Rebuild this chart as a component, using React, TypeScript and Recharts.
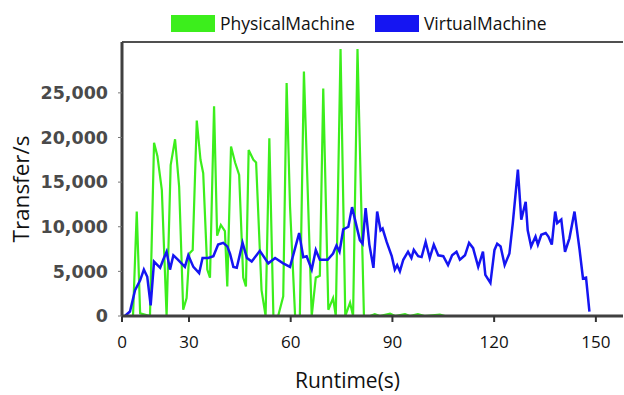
import React from "react";
import { LineChart, Line, XAxis, YAxis, Legend, Label, ReferenceLine } from "recharts";

const physicalTime = [
  11.1, 13.5, 14.6, 15.6, 18.5, 19.7, 20.7, 22.0, 23.4, 24.6, 25.9, 27.1, 28.3, 29.3, 30.1, 31.1, 32.3,
  33.4, 34.2, 35.4, 36.2, 37.4, 38.3, 39.4, 40.6, 41.3, 42.4, 43.6, 44.8, 46.0, 46.8, 47.6, 49.0,
  49.8, 51.4, 52.6, 53.7, 54.9, 56.3, 57.8, 58.8, 59.8, 61.3, 62.7, 63.9, 66.2, 67.4, 68.6, 69.6,
  71.1, 72.5, 73.3, 74.7, 76.1, 77.5, 78.4, 79.7, 81.6, 83.4, 84.8, 86.3, 89.3, 90.8, 93.7, 95.2,
  97.5, 99.5, 104.0, 105.5, 150.0,
];
const physicalValues = [
  0, 0, 11700, 300, 0, 19400, 17900, 14100, 0, 16900, 19800, 14500, 700, 2000, 7000, 7400, 21900,
  17500, 16000, 5200, 4300, 23500, 9000, 10200, 9500, 3300, 19000, 17200, 15800, 4300, 3300, 18600, 17500,
  17200, 2900, 0, 19900, 0, 0, 2200, 26100, 12300, 0, 0, 27400, 0, 4300, 4500, 25500,
  700, 2000, 0, 29900, 0, 1500, 0, 29900, 0, 0, 200, 0, 250, 0, 200, 0,
  200, 0, 150, 0, 0,
];

const virtualTime = [
  11.1, 12.6, 14.1, 15.6, 16.7, 17.7, 18.7, 19.7, 21.5, 22.4, 23.4, 24.4, 25.4, 26.8, 28.8, 29.8,
  31.3, 33.0, 34.0, 35.7, 37.2, 38.6, 40.1, 41.3, 42.1, 43.1, 44.1, 45.8, 47.1, 48.5, 50.9, 53.4,
  55.4, 57.8, 59.8, 61.3, 62.5, 63.7, 64.7, 66.2, 67.4, 68.6, 70.9, 72.5, 73.5, 74.4, 75.5, 77.0,
  78.1, 79.4, 80.4, 81.2, 82.1, 83.2, 84.4, 85.5, 86.5, 87.1, 88.3, 89.8, 90.7, 91.4, 92.2, 93.2,
  94.6, 95.6, 96.3, 97.6, 98.6, 99.8, 101.0, 102.2, 103.5, 105.0, 106.4, 107.6, 108.9, 109.9, 111.4, 112.6,
  113.8, 115.3, 116.7, 117.4, 118.9, 120.1, 120.9, 121.9, 123.1, 124.5, 125.5, 127.0, 128.0, 129.3, 129.9, 130.9,
  132.2, 132.9, 133.9, 135.2, 136.0, 137.0, 138.0, 138.6, 139.8, 140.9, 142.2, 143.7, 145.2, 146.2, 147.1, 148.1,
];
const virtualValues = [
  0, 500, 2900, 4000, 5200, 4400, 1200, 6100, 5400, 6300, 7200, 5200, 6800, 6300, 5500, 6800,
  5500, 4800, 6500, 6500, 6700, 8000, 8200, 7800, 7000, 5500, 5400, 8200, 6500, 6100, 7300, 5900,
  6500, 5900, 5500, 7600, 9300, 6600, 6700, 5200, 7400, 6300, 6300, 7000, 7900, 7200, 9700, 10000,
  12200, 10100, 8500, 8100, 12100, 8000, 5400, 11700, 9600, 9800, 8300, 6700, 5200, 5700, 5000, 6300,
  7200, 6500, 7400, 6700, 6600, 8300, 6500, 8000, 6800, 6700, 5700, 6800, 7200, 6300, 6800, 8200,
  7600, 5500, 7200, 4600, 3700, 7400, 8100, 7800, 5700, 7000, 10400, 16400, 10800, 12800, 9600, 7800,
  8900, 8000, 9100, 9300, 8900, 8000, 11700, 10400, 10800, 7200, 8700, 11700, 7400, 4200, 4300, 500,
];

const xTicks = [10.25, 30, 60, 90, 120, 150];
const xTickLabels = ["0", "30", "60", "90", "120", "150"];
const yTicks = [0, 5000, 10000, 15000, 20000, 25000];
const yMax = 30700;
const seriesNames = ["PhysicalMachine", "VirtualMachine"];
const seriesColors = ["#3cee1c", "#1515f2"];
const xTitle = "Runtime(s)";
const yTitle = "Transfer/s";

const physicalData = physicalTime.map((t, i) => ({ t, v: physicalValues[i] }));
const virtualData = virtualTime.map((t, i) => ({ t, v: virtualValues[i] }));

const titleFont = "'Open Sans', sans-serif";
const xTickStyle = { fontFamily: titleFont, fontSize: 17, fill: "#111" };
const yTickStyle = { fontFamily: "'DejaVu Sans', sans-serif", fontSize: 17.5, fontWeight: 700, fill: "#4a4a4a" };

function LegendContent() {
  return (
    <div style={{ display: "flex", alignItems: "center", fontFamily: titleFont, fontSize: 17.5, color: "#111" }}>
      {seriesNames.map((n, i) => (
        <div key={n} style={{ display: "flex", alignItems: "center", marginRight: i === 0 ? 20 : 0 }}>
          <div style={{ width: 44, height: 17, background: seriesColors[i], marginRight: 5 }} />
          <span style={{ lineHeight: "20px" }}>{n}</span>
        </div>
      ))}
    </div>
  );
}

export default function App() {
  return (
    <div style={{ position: "absolute", left: 0, top: 0, width: 624, height: 395 }}>
      <LineChart width={624} height={395} margin={{ top: 42, right: 1, bottom: 0, left: 0 }}>
        <XAxis
          type="number"
          dataKey="t"
          domain={[10.25, 158]}
          allowDataOverflow
          ticks={xTicks}
          interval={0}
          tickFormatter={(v: number) => xTickLabels[xTicks.indexOf(v)] ?? String(v)}
          height={79}
          tickSize={6}
          tickMargin={14}
          tick={xTickStyle}
          tickLine={{ stroke: "#333", strokeWidth: 2 }}
          axisLine={{ stroke: "#404040", strokeWidth: 3 }}
        >
          <Label
            content={(props: any) => {
              const vb = props.viewBox;
              return (
                <text
                  x={vb.x + vb.width / 2 - 25}
                  y={vb.y + 64}
                  textAnchor="middle"
                  dominantBaseline="central"
                  fontFamily={titleFont}
                  fontSize={21}
                  fill="#111"
                >
                  {xTitle}
                </text>
              );
            }}
          />
        </XAxis>
        <YAxis
          type="number"
          domain={[0, yMax]}
          allowDataOverflow
          ticks={yTicks}
          interval={0}
          width={122}
          tickFormatter={(v: number) => v.toLocaleString("en-US")}
          tickSize={4}
          tickMargin={10}
          tick={yTickStyle}
          tickLine={{ stroke: "#777", strokeWidth: 1 }}
          axisLine={{ stroke: "#404040", strokeWidth: 3 }}
        >
          <Label
            content={(props: any) => {
              const vb = props.viewBox;
              const cx = vb.x + 20;
              const cy = vb.y + vb.height / 2 + 10;
              return (
                <text
                  x={cx}
                  y={cy}
                  transform={`rotate(-90, ${cx}, ${cy})`}
                  textAnchor="middle"
                  dominantBaseline="central"
                  fontFamily={titleFont}
                  fontSize={22.5}
                  fill="#111"
                >
                  {yTitle}
                </text>
              );
            }}
          />
        </YAxis>
        <ReferenceLine y={yMax} stroke="#505050" strokeWidth={2} ifOverflow="extendDomain" />
        <Legend
          layout="vertical"
          align="center"
          verticalAlign="middle"
          content={() => <LegendContent />}
          wrapperStyle={{ top: 13, left: 171, width: "auto", height: "auto" }}
        />
        <Line
          data={physicalData}
          dataKey="v"
          name={seriesNames[0]}
          type="linear"
          stroke={seriesColors[0]}
          strokeWidth={2.2}
          dot={false}
          isAnimationActive={false}
        />
        <Line
          data={virtualData}
          dataKey="v"
          name={seriesNames[1]}
          type="linear"
          stroke={seriesColors[1]}
          strokeWidth={2.5}
          dot={false}
          isAnimationActive={false}
        />
      </LineChart>
    </div>
  );
}
